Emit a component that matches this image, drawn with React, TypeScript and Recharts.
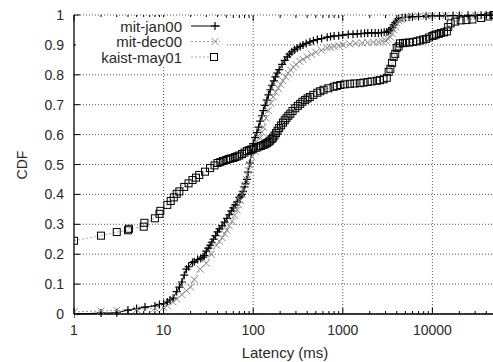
import React from "react";
import { LineChart, Line, XAxis, YAxis, CartesianGrid, ReferenceLine, Legend } from "recharts";

// mit-jan00
const janX = [1, 2, 3, 4, 5, 6.2, 8, 9, 10, 11, 11.8, 12.8, 14, 15, 16, 17, 18, 19, 21, 22, 24, 26, 27.5, 28.5, 30, 31.5, 33, 34.5, 36, 38, 40, 42, 45, 48, 51, 54, 57, 60, 63, 66, 70, 73, 75, 77, 80, 82, 85, 88, 92, 96, 100, 105, 110, 115, 120, 125, 130, 136, 142, 148, 155, 162, 170, 177, 185, 195, 210, 225, 240, 255, 270, 290, 310, 335, 360, 390, 430, 470, 520, 580, 670, 730, 800, 900, 1000, 1150, 1300, 1450, 1600, 1750, 1900, 2100, 2300, 2500, 2700, 2900, 3100, 3250, 3400, 3550, 3700, 3850, 4000, 4200, 4600, 5000, 5500, 6000, 7000, 8500, 10000, 12000, 14000, 17000, 20000, 25000, 30000, 35000, 40000, 45000, 50000];
const janY = [0, 0.003, 0.004, 0.013, 0.018, 0.023, 0.027, 0.032, 0.035, 0.04, 0.047, 0.053, 0.075, 0.09, 0.107, 0.13, 0.15, 0.158, 0.172, 0.175, 0.182, 0.186, 0.19, 0.195, 0.21, 0.22, 0.23, 0.24, 0.25, 0.262, 0.275, 0.285, 0.295, 0.307, 0.32, 0.332, 0.345, 0.355, 0.365, 0.375, 0.39, 0.395, 0.4, 0.41, 0.425, 0.435, 0.45, 0.475, 0.505, 0.54, 0.57, 0.59, 0.607, 0.625, 0.645, 0.663, 0.68, 0.698, 0.715, 0.733, 0.75, 0.765, 0.78, 0.793, 0.806, 0.817, 0.835, 0.848, 0.86, 0.869, 0.877, 0.884, 0.89, 0.895, 0.9, 0.905, 0.91, 0.914, 0.918, 0.921, 0.926, 0.928, 0.93, 0.931, 0.933, 0.935, 0.936, 0.937, 0.938, 0.939, 0.94, 0.94, 0.94, 0.94, 0.941, 0.942, 0.943, 0.946, 0.95, 0.958, 0.967, 0.975, 0.98, 0.988, 0.991, 0.992, 0.993, 0.994, 0.995, 0.996, 0.997, 0.997, 0.997, 0.998, 0.998, 0.999, 0.999, 0.999, 0.999, 1, 1];

// mit-dec00
const decX = [1, 2, 3, 5, 8, 10, 11, 12.8, 14, 16, 18, 20, 22, 25.6, 30, 34, 39, 42, 45, 48, 51, 54, 58, 62, 66, 69, 72, 75, 78, 81, 84, 86, 88, 92, 97, 105, 110, 115, 120, 125, 130, 139, 148, 157, 167, 178, 190, 202, 215, 230, 245, 262, 280, 300, 330, 360, 400, 450, 500, 580, 670, 730, 800, 900, 1000, 1200, 1400, 1650, 1900, 2200, 2500, 2750, 3000, 3200, 3400, 3550, 3700, 3850, 4000, 4250, 4500, 4800, 5200, 6000, 7000, 8500, 10000, 14000, 20000, 30000, 50000];
const decY = [0.007, 0.01, 0.012, 0.015, 0.02, 0.022, 0.028, 0.04, 0.05, 0.065, 0.078, 0.09, 0.115, 0.15, 0.17, 0.2, 0.23, 0.243, 0.255, 0.268, 0.28, 0.295, 0.31, 0.33, 0.347, 0.365, 0.38, 0.4, 0.415, 0.432, 0.45, 0.465, 0.48, 0.5, 0.525, 0.545, 0.555, 0.572, 0.59, 0.608, 0.625, 0.655, 0.68, 0.705, 0.726, 0.742, 0.755, 0.768, 0.78, 0.793, 0.805, 0.816, 0.826, 0.834, 0.845, 0.852, 0.86, 0.868, 0.875, 0.882, 0.89, 0.892, 0.895, 0.897, 0.9, 0.903, 0.905, 0.907, 0.908, 0.909, 0.91, 0.912, 0.915, 0.92, 0.926, 0.938, 0.95, 0.962, 0.973, 0.98, 0.985, 0.99, 0.993, 0.995, 0.996, 0.997, 0.998, 0.998, 0.999, 0.999, 1];

// kaist-may01
const kaistX = [1, 2, 3, 4, 4.1, 6, 6.1, 8, 9, 9.2, 11, 12, 13, 14, 15, 17, 19, 21, 23, 25, 29, 33, 37, 40, 43, 46, 50, 53, 56, 60, 63, 66, 70, 75, 80, 85, 90, 95, 100, 108, 115, 122, 130, 137, 143, 149, 155, 161, 167, 173, 180, 187, 195, 205, 215, 225, 235, 247, 260, 275, 295, 315, 335, 355, 380, 405, 430, 470, 520, 560, 610, 690, 790, 860, 940, 1050, 1200, 1350, 1550, 1700, 1900, 2100, 2400, 2600, 2850, 3100, 3250, 3400, 3550, 3700, 3850, 4000, 4200, 4350, 4700, 5000, 5500, 6100, 6700, 7300, 7900, 8500, 9200, 10000, 10500, 11000, 11800, 12500, 13500, 14500, 15000, 16000, 18000, 20700, 24000, 28000, 35000, 42000, 48000];
const kaistY = [0.245, 0.262, 0.274, 0.28, 0.285, 0.292, 0.305, 0.32, 0.335, 0.345, 0.365, 0.378, 0.39, 0.402, 0.41, 0.425, 0.437, 0.448, 0.456, 0.465, 0.476, 0.488, 0.497, 0.505, 0.508, 0.512, 0.515, 0.518, 0.52, 0.522, 0.525, 0.527, 0.53, 0.535, 0.54, 0.545, 0.548, 0.55, 0.553, 0.556, 0.56, 0.562, 0.565, 0.568, 0.572, 0.576, 0.58, 0.585, 0.59, 0.597, 0.605, 0.613, 0.622, 0.631, 0.64, 0.648, 0.655, 0.663, 0.67, 0.679, 0.688, 0.696, 0.703, 0.71, 0.716, 0.721, 0.726, 0.733, 0.74, 0.745, 0.75, 0.755, 0.76, 0.763, 0.766, 0.768, 0.77, 0.771, 0.772, 0.774, 0.776, 0.778, 0.78, 0.782, 0.785, 0.79, 0.81, 0.82, 0.84, 0.86, 0.87, 0.89, 0.895, 0.905, 0.906, 0.907, 0.908, 0.91, 0.912, 0.915, 0.918, 0.92, 0.925, 0.93, 0.932, 0.935, 0.937, 0.94, 0.942, 0.945, 0.96, 0.972, 0.978, 0.982, 0.983, 0.985, 0.99, 0.995, 1];

const seriesNames = ["mit-jan00", "mit-dec00", "kaist-may01"];
const xMajor = [1, 10, 100, 1000, 10000];
const xTicks = [1, 2, 3, 4, 5, 6, 7, 8, 9, 10, 20, 30, 40, 50, 60, 70, 80, 90, 100, 200, 300, 400, 500, 600, 700, 800, 900, 1000, 2000, 3000, 4000, 5000, 6000, 7000, 8000, 9000, 10000, 20000, 30000, 40000, 50000];
const yTicks = [0, 0.1, 0.2, 0.3, 0.4, 0.5, 0.6, 0.7, 0.8, 0.9, 1];

const FONT = "'Liberation Sans', Arial, Helvetica, sans-serif";
const TEXT = "#2a2a2a";
const PLOT_TOP = 15;

const toPoints = (xs: number[], ys: number[]) => xs.map((x, i) => ({ x, y: ys[i] }));
const janData = toPoints(janX, janY);
const decData = toPoints(decX, decY);
const kaistData = toPoints(kaistX, kaistY);

function plusPath(cx: number, cy: number) {
  return `M${cx - 4},${cy}h8M${cx},${cy - 4}v8`;
}
function crossPath(cx: number, cy: number) {
  return `M${cx - 3.5},${cy - 3.5}l7,7M${cx - 3.5},${cy + 3.5}l7,-7`;
}

const PlusDot = (p: any) => {
  if (p.cx == null || p.cy == null) return <g key={p.index} />;
  return <path key={p.index} d={plusPath(p.cx, p.cy)} stroke="#000" strokeWidth={1.2} fill="none" />;
};
const CrossDot = (p: any) => {
  if (p.cx == null || p.cy == null) return <g key={p.index} />;
  return <path key={p.index} d={crossPath(p.cx, p.cy)} stroke="#8a8a8a" strokeWidth={1} fill="none" />;
};
const SquareDot = (p: any) => {
  if (p.cx == null || p.cy == null) return <g key={p.index} />;
  return <rect key={p.index} x={p.cx - 3.5} y={p.cy - 3.5} width={7} height={7} stroke="#000" strokeWidth={1} fill="none" />;
};

const XTick = ({ x, y, payload }: any) => {
  const v = payload.value;
  const major = xMajor.includes(v);
  const len = major ? 6 : 3;
  return (
    <g>
      <line x1={x} x2={x} y1={y} y2={y - len} stroke="#000" />
      <line x1={x} x2={x} y1={PLOT_TOP} y2={PLOT_TOP + len} stroke="#000" />
      {major && (
        <text x={x} y={y + 16} textAnchor="middle" dominantBaseline="central" fontSize={14} fontFamily={FONT} fill={TEXT}>
          {v}
        </text>
      )}
    </g>
  );
};

const YTick = ({ x, y, payload }: any) => {
  const v = payload.value;
  const label = v === 0 ? "0" : v === 1 ? "1" : v.toFixed(1);
  return (
    <g>
      <line x1={x} x2={x + 6} y1={y} y2={y} stroke="#000" />
      <text x={x - 10} y={y} textAnchor="end" dominantBaseline="central" fontSize={14} fontFamily={FONT} fill={TEXT}>
        {label}
      </text>
    </g>
  );
};

const XTitle = () => (
  <text x={285} y={352} textAnchor="middle" dominantBaseline="central" fontSize={15} fontFamily={FONT} fill={TEXT}>
    Latency (ms)
  </text>
);
const YTitle = () => (
  <text x={22} y={165} textAnchor="middle" dominantBaseline="central" fontSize={14} fontFamily={FONT} fill={TEXT} transform="rotate(-90 22 165)">
    CDF
  </text>
);

const KeyBox = () => {
  const rows = [26, 41.5, 57];
  return (
    <svg width={150} height={50} style={{ display: "block", background: "#fff" }}>
      {rows.map((ry, i) => {
        const y = ry - 17;
        return (
          <g key={i}>
            <text x={106} y={y} textAnchor="end" dominantBaseline="central" fontSize={15} fontFamily={FONT} fill={TEXT}>
              {seriesNames[i]}
            </text>
            {i === 0 && (
              <>
                <line x1={115} x2={144} y1={y} y2={y} stroke="#000" />
                <path d={plusPath(139, y)} stroke="#000" strokeWidth={1.2} />
              </>
            )}
            {i === 1 && (
              <>
                <line x1={115} x2={144} y1={y} y2={y} stroke="#999" strokeDasharray="2 2" />
                <path d={crossPath(139, y)} stroke="#8a8a8a" />
              </>
            )}
            {i === 2 && (
              <>
                <line x1={115} x2={134} y1={y} y2={y} stroke="#aaa" strokeDasharray="2 2" />
                <rect x={134.5} y={y - 3.5} width={7} height={7} stroke="#000" fill="#fff" />
              </>
            )}
          </g>
        );
      })}
    </svg>
  );
};

export default function App() {
  return (
    <div style={{ position: "absolute", left: 0, top: 0, width: 493, height: 362, overflow: "hidden", background: "#fff" }}>
      <LineChart width={496} height={362} margin={{ top: PLOT_TOP, right: 1, bottom: 0, left: 0 }}>
        <CartesianGrid vertical={false} stroke="#555" strokeDasharray="1 2" />
        {xMajor.slice(1).map((v) => (
          <ReferenceLine key={v} x={v} stroke="#555" strokeDasharray="1 2" />
        ))}
        <XAxis
          dataKey="x"
          type="number"
          scale="log"
          domain={[1, 50000]}
          ticks={xTicks}
          interval={0}
          height={48}
          tickSize={0}
          tickMargin={0}
          tick={<XTick />}
          axisLine={{ stroke: "#000", strokeWidth: 1.3 }}
          allowDataOverflow
          label={<XTitle />}
        />
        <YAxis
          type="number"
          domain={[0, 1]}
          ticks={yTicks}
          interval={0}
          width={74}
          tickSize={0}
          tickMargin={0}
          tick={<YTick />}
          axisLine={{ stroke: "#000", strokeWidth: 1.3 }}
          label={<YTitle />}
        />
        <Legend
          layout="horizontal"
          verticalAlign="middle"
          align="center"
          content={() => <KeyBox />}
          wrapperStyle={{ left: 76, top: 17, width: 150, height: 50 }}
        />
        <Line data={janData} dataKey="y" name={seriesNames[0]} stroke="#000" strokeWidth={1} dot={PlusDot} activeDot={false} isAnimationActive={false} />
        <Line data={decData} dataKey="y" name={seriesNames[1]} stroke="#999" strokeDasharray="2 2" strokeWidth={1} dot={CrossDot} activeDot={false} isAnimationActive={false} />
        <Line data={kaistData} dataKey="y" name={seriesNames[2]} stroke="#aaa" strokeDasharray="2 2" strokeWidth={1} dot={SquareDot} activeDot={false} isAnimationActive={false} />
      </LineChart>
    </div>
  );
}
